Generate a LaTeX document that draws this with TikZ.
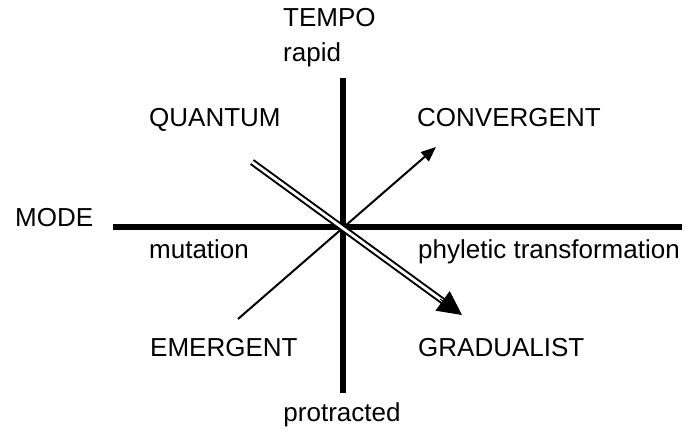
\documentclass[tikz,border=0pt]{standalone}
\usepackage{fontspec}
\setmainfont{Liberation Sans}
\usetikzlibrary{arrows.meta,calc}
\begin{document}
\begin{tikzpicture}[x=1pt,y=-1pt,
  lbl/.style={anchor=base west,inner sep=0pt,font=\fontsize{26}{30}\selectfont},
  axis/.style={line width=5.5pt},
  thin/.style={line width=2pt}]
\useasboundingbox (0,0) rectangle (686,438);
% axes ends
\coordinate (vt) at (343,78);
\coordinate (vb) at (343,393);
\coordinate (hl) at (113,227);
\coordinate (hr) at (682,227);
% diagonals
\coordinate (qs) at (252,162);
\coordinate (gt) at (462,315);
\coordinate (es) at (238,319);
\coordinate (ct) at (436,147);
% labels
\node[lbl] (tempo) at (283,27) {TEMPO};
\node[lbl] (rapid) at (283,62) {rapid};
\node[lbl] (quantum) at (149,127) {QUANTUM};
\node[lbl] (convergent) at (417,127) {CONVERGENT};
\node[lbl] (mode) at (15,227) {MODE};
\node[lbl] (mutation) at (149,259) {mutation};
\node[lbl] (phyletic) at (418,259) {phyletic transformation};
\node[lbl] (emergent) at (150,357) {EMERGENT};
\node[lbl] (gradualist) at (418,357) {GRADUALIST};
\node[lbl,anchor=base] (protracted) at (342,422) {protracted};
% drawing
\draw[axis] (vt) -- (vb);
\draw[axis] (hl) -- (hr);
\draw[thin,-{Triangle[length=15pt,width=12pt]}] (es) -- (ct);
\draw[double,line width=2pt,double distance=2.8pt,shorten >=20pt] (qs) -- (gt);
\draw[line width=1pt,-{Triangle[length=24pt,width=24pt]}] ($(gt)!27pt!(qs)$) -- (gt);
\end{tikzpicture}
\end{document}
